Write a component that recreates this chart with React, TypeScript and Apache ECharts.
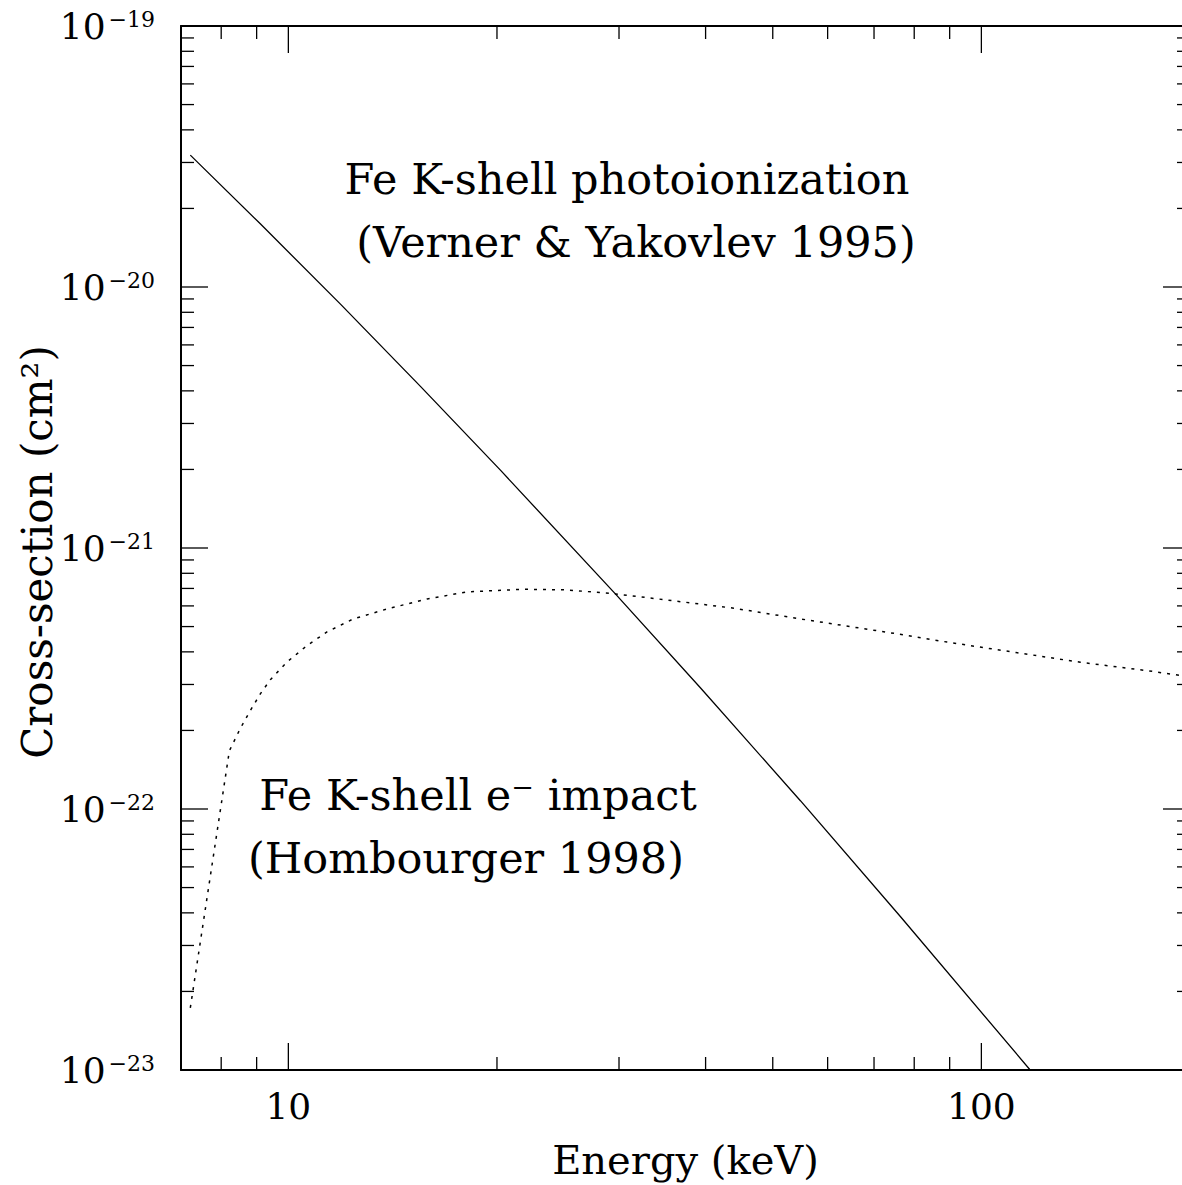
import React, { useEffect, useRef } from "react";
import * as echarts from "echarts";

// Axis ranges
const E_MIN = 7;
const E_MAX = 200;
const S_MIN = 1e-23;
const S_MAX = 1e-19;
// ECharts rounds tiny values to 20 decimals, so the y axis works in units of 1e-23 cm^2
const S_UNIT = 1e-23;

// Fe K-shell photoionization (Verner & Yakovlev 1995)
const photoEnergy = [7.22, 9.11, 11.89, 15.51, 20.23, 29.64, 39.31, 54.81, 76.4, 117.6];
const photoSigma = [
  3.2e-20, 1.746e-20, 8.6e-21, 4.16e-21, 1.987e-21, 6.67e-22, 2.914e-22, 1.076e-22, 3.874e-23, 1.0e-23,
];

// Fe K-shell electron impact (Hombourger 1998)
const impactEnergy = [
  7.22, 8.22, 8.52, 8.81, 9.11, 9.42, 9.96, 10.64, 11.37, 12.41, 13.88, 15.86, 18.11,
  21.86, 25.25, 29.64, 35.19, 43.92, 54.81, 75.57, 89.24, 111.3, 138.9, 173.4, 200,
];
const impactSigma = [
  1.73e-23, 1.67e-22, 2.03e-22, 2.38e-22, 2.76e-22, 3.13e-22, 3.66e-22, 4.23e-22, 4.77e-22,
  5.35e-22, 5.84e-22, 6.38e-22, 6.79e-22, 6.95e-22, 6.91e-22, 6.67e-22, 6.32e-22, 5.88e-22,
  5.35e-22, 4.69e-22, 4.36e-22, 3.99e-22, 3.65e-22, 3.39e-22, 3.21e-22,
];

// Tick marks
const xMinorTicks = [8, 9, 20, 30, 40, 50, 60, 70, 80, 90];
const xMajorTicks = [10, 100];
const yDecades = [-23, -22, -21, -20];
const yMantissas = [2, 3, 4, 5, 6, 7, 8, 9];
const yMajorExponents = [-22, -21, -20];

const FONT = "DejaVu Serif";

const toUnit = (s: number) => s / S_UNIT;

export default function App() {
  const ref = useRef<HTMLDivElement>(null);

  useEffect(() => {
    if (!ref.current) return;
    const chart = echarts.init(ref.current, null, { renderer: "svg" });

    const yMin = toUnit(S_MIN);
    const yMax = toUnit(S_MAX);
    const unitExp = Math.round(Math.log10(S_UNIT));

    const xTickData: number[][] = [
      ...xMinorTicks.map((v) => [v, yMin, 0]),
      ...xMajorTicks.map((v) => [v, yMin, 1]),
    ];
    const yTickData: number[][] = [];
    yDecades.forEach((d) =>
      yMantissas.forEach((m) => yTickData.push([E_MIN, m * Math.pow(10, d - unitExp), 0]))
    );
    yMajorExponents.forEach((d) => yTickData.push([E_MIN, Math.pow(10, d - unitExp), 1]));

    const tickStyle = { stroke: "#000", lineWidth: 1.3 };

    const axisCommon = {
      axisLine: { show: true, onZero: false, lineStyle: { color: "#000", width: 2 } },
      axisTick: { show: false },
      splitLine: { show: false },
      minorTick: { show: false },
    };

    const annot = (text: string, x: number, y: number) => ({
      type: "text",
      x,
      y,
      silent: true,
      style: { text, fontFamily: FONT, fontSize: 43, fill: "#000", align: "center", verticalAlign: "top" },
    });

    chart.setOption({
      animation: false,
      backgroundColor: "#fff",
      grid: { left: 181, top: 26, width: 1009, height: 1046, containLabel: false },
      xAxis: [
        {
          type: "log",
          logBase: 10,
          min: E_MIN,
          max: E_MAX,
          position: "bottom",
          ...axisCommon,
          name: "Energy (keV)",
          nameLocation: "middle",
          nameGap: 70,
          nameTextStyle: { fontFamily: FONT, fontSize: 40, color: "#000" },
          axisLabel: {
            margin: 18,
            fontFamily: FONT,
            fontSize: 36,
            color: "#000",
            showMinLabel: false,
            showMaxLabel: false,
            formatter: (v: number) => {
              const l = Math.log10(v);
              return Math.abs(l - Math.round(l)) < 1e-6 ? String(Math.round(v)) : "";
            },
          },
        },
        {
          type: "log",
          logBase: 10,
          min: E_MIN,
          max: E_MAX,
          position: "top",
          ...axisCommon,
          axisLabel: { show: false },
        },
      ],
      yAxis: [
        {
          type: "log",
          logBase: 10,
          min: yMin,
          max: yMax,
          position: "left",
          ...axisCommon,
          axisLabel: {
            margin: 26,
            formatter: (v: number) => {
              const e = Math.round(Math.log10(v)) + unitExp;
              return `{b|10}{s|−${Math.abs(e)}}`;
            },
            rich: {
              b: { fontFamily: FONT, fontSize: 36, color: "#000" },
              s: { fontFamily: FONT, fontSize: 22, color: "#000", verticalAlign: "top", padding: [0, 0, 0, 3] },
            },
          },
        },
        {
          type: "log",
          logBase: 10,
          min: yMin,
          max: yMax,
          position: "right",
          ...axisCommon,
          axisLine: { show: false },
          axisLabel: { show: false },
        },
      ],
      series: [
        {
          type: "line",
          name: "photoionization",
          data: photoEnergy.map((e, i) => [e, toUnit(photoSigma[i])]),
          showSymbol: false,
          lineStyle: { color: "#000", width: 1.3, type: "solid" },
          silent: true,
        },
        {
          type: "line",
          name: "e- impact",
          data: impactEnergy.map((e, i) => [e, toUnit(impactSigma[i])]),
          showSymbol: false,
          lineStyle: { color: "#000", width: 1.5, type: [3, 6] },
          silent: true,
        },
        {
          type: "custom",
          name: "xticks",
          silent: true,
          clip: false,
          data: xTickData,
          encode: { x: 0, y: 1 },
          renderItem: (_params: any, api: any) => {
            const v = api.value(0);
            const major = api.value(2) === 1;
            const len = major ? 27 : 13;
            const b = api.coord([v, yMin]);
            const t = api.coord([v, yMax]);
            return {
              type: "group",
              children: [
                { type: "line", shape: { x1: b[0], y1: b[1], x2: b[0], y2: b[1] - len }, style: tickStyle },
                { type: "line", shape: { x1: t[0], y1: t[1], x2: t[0], y2: t[1] + len }, style: tickStyle },
              ],
            };
          },
        },
        {
          type: "custom",
          name: "yticks",
          silent: true,
          clip: false,
          data: yTickData,
          encode: { x: 0, y: 1 },
          renderItem: (_params: any, api: any) => {
            const v = api.value(1);
            const major = api.value(2) === 1;
            const len = major ? 27 : 13;
            const l = api.coord([E_MIN, v]);
            const r = api.coord([E_MAX, v]);
            return {
              type: "group",
              children: [
                { type: "line", shape: { x1: l[0], y1: l[1], x2: l[0] + len, y2: l[1] }, style: tickStyle },
                { type: "line", shape: { x1: r[0], y1: r[1], x2: r[0] - len, y2: r[1] }, style: tickStyle },
              ],
            };
          },
        },
      ],
      graphic: [
        {
          type: "text",
          x: 37,
          y: 552,
          rotation: Math.PI / 2,
          silent: true,
          style: {
            text: "Cross-section (cm²)",
            fontFamily: FONT,
            fontSize: 42,
            fill: "#000",
            align: "center",
            verticalAlign: "middle",
          },
        },
        annot("Fe K-shell photoionization", 627, 157),
        annot("(Verner & Yakovlev 1995)", 636, 220),
        annot("Fe K-shell e⁻ impact", 478, 773),
        annot("(Hombourger 1998)", 466, 836),
      ],
    });

    return () => chart.dispose();
  }, []);

  return (
    <div
      style={{
        position: "absolute",
        left: 0,
        top: 0,
        width: 1182,
        height: 1185,
        overflow: "hidden",
        background: "#fff",
      }}
    >
      <div ref={ref} style={{ width: 1200, height: 1185 }} />
    </div>
  );
}
